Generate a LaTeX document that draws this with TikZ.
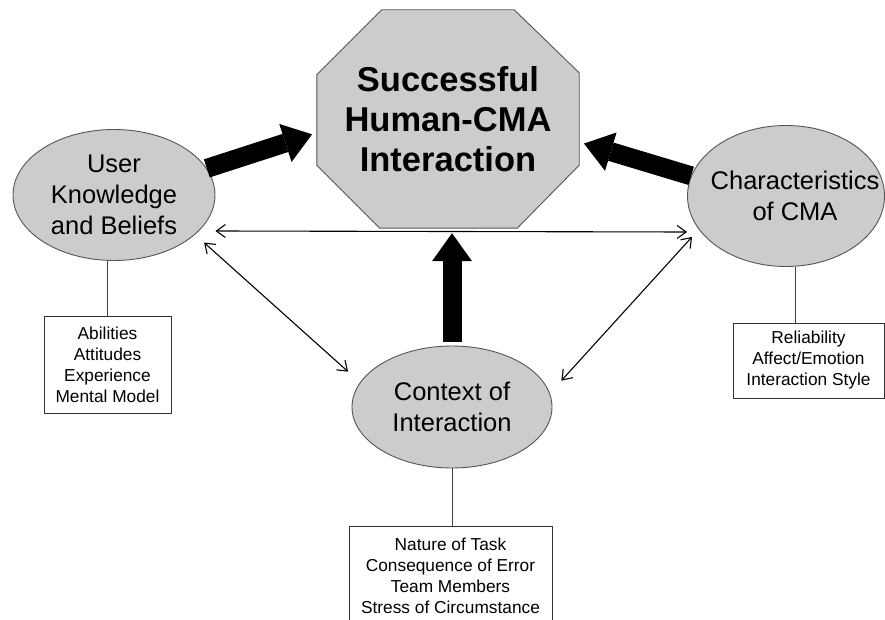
\documentclass[tikz,border=0pt]{standalone}
\usepackage{fontspec}
\setmainfont{Liberation Sans}
\usetikzlibrary{positioning,shapes.geometric,arrows.meta,backgrounds}

\definecolor{shapefill}{RGB}{204,204,204}
\definecolor{shapeline}{RGB}{85,85,85}

\newcommand{\narrowline}[2][0pt]{\makebox[0pt]{\hspace*{#1}#2}}

\tikzset{
    goalshape/.style={rectangle, align=center, inner sep=0pt,
        font=\fontsize{34.5}{40}\selectfont\bfseries},
    octagon/.style={draw=shapeline, fill=shapefill, line width=0.9pt},
    blob/.style={ellipse, draw=shapeline, fill=shapefill, line width=0.9pt,
        align=center, inner sep=0pt, font=\fontsize{25.5}{31}\selectfont},
    factorbox/.style={rectangle, draw=black!80, line width=1pt, align=center,
        inner sep=0pt, font=\fontsize{17.3}{21}\selectfont},
    bigarrow/.style={line width=19pt, -{Triangle[length=28pt,width=40pt,line width=0pt]}},
    twoway/.style={line width=1.1pt,
        {Straight Barb[length=9pt,width=13pt]}-{Straight Barb[length=9pt,width=13pt]}},
    link/.style={line width=1pt, draw=black!75}
}

\begin{document}
\begin{tikzpicture}[x=1pt,y=-1pt]
    \useasboundingbox (0,0) rectangle (885,620);
    \clip (0,0) rectangle (885,620);

    % main outcome and the three factors
    \node[goalshape, minimum width=262pt, minimum height=218pt] (goal) at (448,119)
        {Successful\\Human-CMA\\Interaction};
    \begin{scope}[on background layer]
        \draw[octagon] ([xshift=65pt]goal.north west) -- ([xshift=-65pt]goal.north east)
            -- ([yshift=-63pt]goal.north east) -- ([yshift=63pt]goal.south east)
            -- ([xshift=-62pt]goal.south east) -- ([xshift=63pt]goal.south west)
            -- ([yshift=63pt]goal.south west) -- ([yshift=-65pt]goal.north west) -- cycle;
    \end{scope}
    \node[blob, minimum width=202pt, minimum height=131pt] (user) at (114,195)
        {User\\Knowledge\\and Beliefs};
    \node[blob, minimum width=197pt, minimum height=141pt] (cma) at (786,196)
        {\narrowline[18pt]{Characteristics}\\\narrowline[18pt]{of CMA}};
    \node[blob, minimum width=200pt, minimum height=122pt] (context) at (452,407)
        {Context of\\Interaction};

    % lists below the factors
    \node[factorbox, minimum width=127pt, minimum height=97pt] (userlist) at (107.5,364.5)
        {Abilities\\Attitudes\\Experience\\Mental Model};
    \node[factorbox, minimum width=151pt, minimum height=75pt] (cmalist) at (808.5,360.5)
        {Reliability\\Affect/Emotion\\Interaction Style};
    \node[factorbox, minimum width=203pt, minimum height=100pt] (contextlist) at (450.5,576)
        {Nature of Task\\Consequence of Error\\Team Members\\Stress of Circumstance};

    \draw[link] (userlist.north) -- (userlist.north |- user.south);
    \draw[link] ([xshift=9pt]cma.south) -- ([xshift=9pt]cma.south |- cmalist.north);
    \draw[link] (context.south) -- (context.south |- contextlist.north);

    % mutual influences
    \draw[twoway] ([yshift=-36pt]user.east) -- ([yshift=-36pt]cma.west);
    \draw[twoway, shorten <=12pt, shorten >=16pt] (user.-26) -- (context.165);
    \draw[twoway, shorten <=10pt, shorten >=17pt] (cma.201) -- (context.8);

    % contributions to the outcome
    \draw[bigarrow, shorten >=5pt] (user.16) -- (goal.186);
    \draw[bigarrow, shorten >=5pt] (cma.168) -- (goal.-10);
    \draw[bigarrow, shorten <=4pt, shorten >=5pt] (context.north) -- (context.north |- goal.south);
\end{tikzpicture}
\end{document}
